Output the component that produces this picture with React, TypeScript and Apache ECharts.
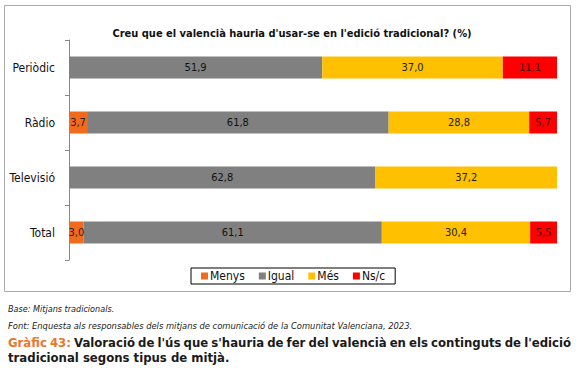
import { useEffect, useRef } from "react";
import * as echarts from "echarts";

const categories = ["Periòdic", "Ràdio", "Televisió", "Total"];
const seriesNames = ["Menys", "Igual", "Més", "Ns/c"];
const menys = [null, 3.7, null, 3.0];
const igual = [51.9, 61.8, 62.8, 61.1];
const mes = [37.0, 28.8, 37.2, 30.4];
const nsc = [11.1, 5.7, null, 5.5];
const colors = ["#F26A1B", "#808080", "#FFC000", "#FF0000"];
const labelColors = ["#222222", "#111111", "#222222", "#4a0000"];

const chartTitle = "Creu que el valencià hauria d'usar-se en l'edició tradicional? (%)";
const baseText = "Base: Mitjans tradicionals.";
const sourceText =
  "Font: Enquesta als responsables dels mitjans de comunicació de la Comunitat Valenciana, 2023.";
const captionLabel = "Gràfic 43:";
const captionLine1 =
  "Valoració de l'ús que s'hauria de fer del valencià en els continguts de l'edició";
const captionLine2 = "tradicional segons tipus de mitjà.";

const FONT = "'DejaVu Sans Condensed', 'DejaVu Sans', sans-serif";
const CAP_FONT_SIZE = 13;

function measure(text: string, font: string): number {
  const c = document.createElement("canvas");
  const ctx = c.getContext("2d")!;
  ctx.font = font;
  return ctx.measureText(text).width;
}

function justifiedWords(): any[] {
  const font = `bold ${CAP_FONT_SIZE}px ${FONT}`;
  const words = [
    ...captionLabel.split(" ").map((w) => ({ w, orange: true })),
    ...captionLine1.split(" ").map((w) => ({ w, orange: false })),
  ];
  const left = 8;
  const right = 571;
  const widths = words.map((o) => measure(o.w, font));
  const total = widths.reduce((a, b) => a + b, 0);
  const gap = Math.max(3, (right - left - total) / (words.length - 1));
  let x = left;
  return words.map((o, i) => {
    const el = {
      type: "text",
      left: x,
      top: 336,
      style: {
        text: o.w,
        fill: o.orange ? "#E8772E" : "#1a1a1a",
        font,
      },
    };
    x += widths[i] + gap;
    return el;
  });
}

export default function App() {
  const ref = useRef<HTMLDivElement>(null);
  useEffect(() => {
    const chart = echarts.init(ref.current!, null, { renderer: "svg" });
    const data = [menys, igual, mes, nsc];
    const series = seriesNames.map((name, i) => ({
      name,
      type: "bar",
      stack: "total",
      barWidth: "40%",
      itemStyle: { color: colors[i] },
      label: {
        show: true,
        position: "inside",
        color: labelColors[i],
        fontFamily: FONT,
        fontSize: 11,
        formatter: (p: any) =>
          p.value == null ? "" : Number(p.value).toFixed(1).replace(".", ","),
      },
      data: data[i],
    }));
    chart.setOption({
      animation: false,
      textStyle: { fontFamily: FONT },
      title: {
        text: chartTitle,
        left: 287,
        textAlign: "center",
        top: 23,
        textStyle: { fontSize: 11, fontWeight: "bold", color: "#111", fontFamily: FONT },
      },
      legend: {
        left: 191,
        top: 268,
        icon: "rect",
        itemWidth: 7,
        itemHeight: 7,
        itemGap: 14,
        padding: [2, 10, 2, 10],
        borderColor: "#000",
        borderWidth: 1,
        textStyle: { fontSize: 12, color: "#111", fontFamily: FONT, padding: [0, 0, 0, -3] },
        data: seriesNames,
      },
      grid: { left: 69, right: 28, top: 40, height: 220 },
      xAxis: { type: "value", min: 0, max: 100, show: false },
      yAxis: {
        type: "category",
        inverse: true,
        data: categories,
        axisLine: { show: true, lineStyle: { color: "#888", width: 1 } },
        axisTick: { show: true, length: 4, lineStyle: { color: "#888" } },
        axisLabel: { color: "#111", fontSize: 12, margin: 14, fontFamily: FONT },
      },
      graphic: [
        {
          type: "rect",
          shape: { x: 4.5, y: 5.5, width: 566, height: 286 },
          style: { fill: "none", stroke: "#aaa", lineWidth: 1 },
        },
        {
          type: "text",
          left: 8,
          top: 304,
          style: { text: baseText, font: `italic 9px ${FONT}`, fill: "#222" },
        },
        {
          type: "text",
          left: 8,
          top: 321,
          style: { text: sourceText, font: `italic 9.3px ${FONT}`, fill: "#222" },
        },
        ...justifiedWords(),
        {
          type: "text",
          left: 8,
          top: 351,
          style: { text: captionLine2, font: `bold ${CAP_FONT_SIZE}px ${FONT}`, fill: "#1a1a1a" },
        },
      ],
      series,
    });
    return () => chart.dispose();
  }, []);
  return (
    <div
      ref={ref}
      style={{ position: "absolute", left: 0, top: 0, width: 585, height: 368, background: "#fff" }}
    />
  );
}
